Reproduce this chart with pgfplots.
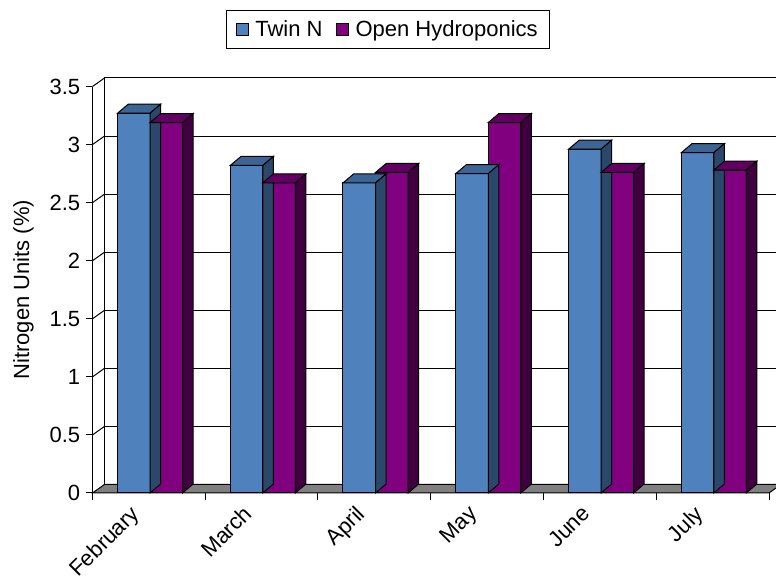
\documentclass[border=0pt]{standalone}
\usepackage{fontspec}
\setmainfont{Liberation Sans}
\usepackage{pgfplots}
\usepackage{pgfplotstable}
\pgfplotsset{compat=1.18}

\definecolor{twinblue}{RGB}{79,129,189}
\definecolor{twintop}{RGB}{60,100,148}
\definecolor{twinside}{RGB}{43,72,107}
\definecolor{hydro}{RGB}{128,0,128}
\definecolor{hydrotop}{RGB}{98,0,98}
\definecolor{hydroside}{RGB}{64,0,64}
\definecolor{floorgray}{RGB}{128,128,128}

% monthly nitrogen content, both feeds
\pgfplotstableread{
x    twin hydro
0.51 3.27 3.19
1.51 2.82 2.67
2.51 2.67 2.76
3.51 2.75 3.19
4.51 2.96 2.76
5.51 2.93 2.78
}\nitrogen

% top and right faces of a column, drawn from the top of its front face
\newdimen\barh \newdimen\barl \newdimen\barr
\newcommand{\boxfaces}[3]{%
  \barh=\barv pt \barh=87.1\barh
  \barl=#1\relax \barr=\barl \advance\barr by 24.39pt
  \pgfsetlinewidth{0.75pt}%
  \pgfsetstrokecolor{black}%
  \pgfsetfillcolor{#2}%
  \pgfpathmoveto{\pgfqpoint{\barl}{0pt}}%
  \pgfpathlineto{\pgfqpoint{\barr}{0pt}}%
  \pgfpathlineto{\pgfqpoint{\dimexpr\barr+8pt\relax}{6.75pt}}%
  \pgfpathlineto{\pgfqpoint{\dimexpr\barl+8pt\relax}{6.75pt}}%
  \pgfpathclose
  \pgfusepath{fill,stroke}%
  \pgfsetfillcolor{#3}%
  \pgfpathmoveto{\pgfqpoint{\barr}{0pt}}%
  \pgfpathlineto{\pgfqpoint{\dimexpr\barr+8pt\relax}{6.75pt}}%
  \pgfpathlineto{\pgfqpoint{\dimexpr\barr+8pt\relax}{\dimexpr6.75pt-\barh\relax}}%
  \pgfpathlineto{\pgfqpoint{\barr}{-\barh}}%
  \pgfpathclose
  \pgfusepath{fill,stroke}%
}
\pgfdeclareplotmark{twinbox}{\boxfaces{-24.39pt}{twintop}{twinside}}
\pgfdeclareplotmark{hydrobox}{\boxfaces{0pt}{hydrotop}{hydroside}}

\newcommand{\chartfont}{\fontsize{16.5}{19.8}\selectfont}

\begin{document}
\begin{tikzpicture}
\begin{axis}[
  at={(0,0)}, anchor=origin,
  x=84.5625pt, y=87.1pt,
  xmin=0, xmax=6, ymin=0, ymax=3.5,
  clip=false,
  axis line style={draw=none},
  xtick pos=bottom, ytick pos=left,
  tick align=outside,
  xtick={0.5,1.5,2.5,3.5,4.5,5.5},
  xticklabels={February,March,April,May,June,July},
  minor xtick={0,1,2,3,4,5,6},
  ytick={0,0.5,1,1.5,2,2.5,3,3.5},
  major tick length=4.5pt, minor tick length=5.25pt,
  major x tick style={draw=none},
  minor x tick style={black, line width=0.75pt},
  y tick style={black, line width=0.75pt},
  ymajorgrids,
  grid style={black, line width=0.75pt, xshift=9pt, yshift=6.4pt},
  /pgf/number format/assume math mode=true,
  tick label style={font=\chartfont},
  yticklabel style={anchor=east, inner sep=0pt, xshift=-4.5pt},
  xticklabel style={rotate=45, anchor=north east, inner sep=0pt, xshift=-13pt, yshift=7.8pt},
  ylabel={Nitrogen Units (\%)},
  ylabel style={font=\chartfont, at={(axis description cs:-0.102,0.5)}, anchor=center},
  legend style={at={(0.4368,1.1414)}, anchor=center, legend columns=2,
    draw=black, line width=0.75pt, font=\chartfont,
    inner xsep=7pt, inner ysep=5.5pt,
    /tikz/every odd column/.append style={column sep=3pt},
    /tikz/every even column/.append style={column sep=8pt}},
]
% floor
\filldraw[fill=floorgray, draw=black, line width=0.75pt]
  (axis cs:0,0) -- (axis cs:6,0) -- ++(9pt,6.4pt)
  -- ([shift={(9pt,6.4pt)}]axis cs:0,0) -- cycle;
% left wall
\draw[black, line width=0.75pt] (axis cs:0,0) -- (axis cs:0,3.5);
\draw[black, line width=0.75pt] ([shift={(9pt,6.4pt)}]axis cs:0,0) -- ([shift={(9pt,6.4pt)}]axis cs:0,3.5);
\draw[black, line width=0.75pt]
  (axis cs:0,0.5) -- ++(9pt,6.4pt)
  (axis cs:0,1) -- ++(9pt,6.4pt)
  (axis cs:0,1.5) -- ++(9pt,6.4pt)
  (axis cs:0,2) -- ++(9pt,6.4pt)
  (axis cs:0,2.5) -- ++(9pt,6.4pt)
  (axis cs:0,3) -- ++(9pt,6.4pt)
  (axis cs:0,3.5) -- ++(9pt,6.4pt);

\addplot[only marks, mark=twinbox, forget plot,
  visualization depends on={rawy\as\barv}]
  table[x=x, y=twin] {\nitrogen};
\addplot[ybar, bar width=24.39pt, bar shift=-12.195pt, fill=twinblue, draw=black, line width=0.75pt,
  legend image code/.code={\draw[fill=twinblue, draw=black, line width=0.75pt] (0pt,-4.5pt) rectangle (9pt,4.5pt);}]
  table[x=x, y=twin] {\nitrogen};
\addlegendentry{Twin N}

\addplot[only marks, mark=hydrobox, forget plot,
  visualization depends on={rawy\as\barv}]
  table[x=x, y=hydro] {\nitrogen};
\addplot[ybar, bar width=24.39pt, bar shift=12.195pt, fill=hydro, draw=black, line width=0.75pt,
  legend image code/.code={\draw[fill=hydro, draw=black, line width=0.75pt] (0pt,-4.5pt) rectangle (9pt,4.5pt);}]
  table[x=x, y=hydro] {\nitrogen};
\addlegendentry{Open Hydroponics}
\end{axis}
\pgfresetboundingbox
\path[use as bounding box] (-69.375pt,-66pt) rectangle (512.625pt,369.75pt);
\end{tikzpicture}
\end{document}
